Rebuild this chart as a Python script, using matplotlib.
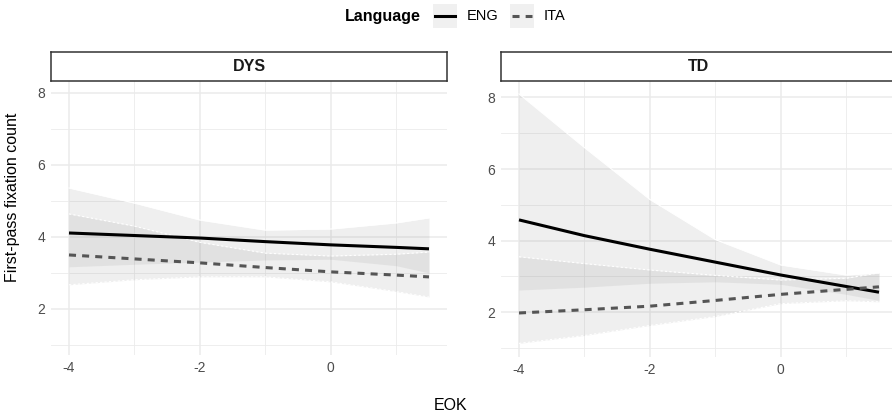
import matplotlib
matplotlib.use("Agg")
import matplotlib.pyplot as plt
from matplotlib.patches import Rectangle
from matplotlib.lines import Line2D

plt.rcParams['font.family'] = ['Liberation Sans', 'DejaVu Sans']

# EOK values where the curves were read
eok = [-4, -3, -2, -1, 0, 1, 1.5]

# DYS panel
dys_eng = [4.11, 4.04, 3.97, 3.87, 3.78, 3.71, 3.67]
dys_eng_lo = [3.17, 3.24, 3.30, 3.36, 3.38, 3.20, 3.00]
dys_eng_hi = [5.36, 4.94, 4.47, 4.19, 4.22, 4.39, 4.53]
dys_ita = [3.50, 3.39, 3.28, 3.15, 3.03, 2.94, 2.89]
dys_ita_lo = [2.67, 2.81, 2.89, 2.89, 2.75, 2.48, 2.33]
dys_ita_hi = [4.64, 4.30, 3.85, 3.55, 3.47, 3.52, 3.58]

# TD panel
td_eng = [4.58, 4.14, 3.76, 3.40, 3.04, 2.72, 2.56]
td_eng_lo = [2.62, 2.70, 2.81, 2.85, 2.78, 2.50, 2.33]
td_eng_hi = [8.10, 6.60, 5.15, 4.03, 3.32, 3.04, 3.10]
td_ita = [1.98, 2.07, 2.17, 2.33, 2.50, 2.64, 2.71]
td_ita_lo = [1.13, 1.35, 1.63, 1.88, 2.24, 2.32, 2.29]
td_ita_hi = [3.55, 3.36, 3.18, 3.03, 2.90, 2.95, 3.10]

panels = {
    "DYS": (dys_eng, dys_eng_lo, dys_eng_hi, dys_ita, dys_ita_lo, dys_ita_hi),
    "TD": (td_eng, td_eng_lo, td_eng_hi, td_ita, td_ita_lo, td_ita_hi),
}

W, H = 892, 417
fig = plt.figure(figsize=(W / 100, H / 100), dpi=100)

def fx(px):
    return px / W

def fy(py):
    return 1 - py / H

ita_dash = (0, (2.3, 2.0))
# (left px, right px, bottom px, ylim)
layout = {
    "DYS": (51, 447, 355, (0.72, 8.333)),
    "TD": (501, 897, 357, (0.75, 8.46)),
}

for name, (eng, eng_lo, eng_hi, ita, ita_lo, ita_hi) in panels.items():
    l, r, b, ylim = layout[name]
    ax = fig.add_axes([fx(l), fy(b), fx(r - l), (b - 81) / H])
    ax.set_xlim(-4.275, 1.775)
    ax.set_ylim(*ylim)
    for s in ax.spines.values():
        s.set_visible(False)
    ax.set_xticks([-4, -2, 0])
    ax.set_xticks([-3, -1, 1], minor=True)
    ax.set_yticks([2, 4, 6, 8])
    ax.set_yticks([1, 3, 5, 7], minor=True)
    ax.grid(which='major', color='#ebebeb', lw=1.1)
    ax.grid(which='minor', color='#ebebeb', lw=0.6)
    ax.set_axisbelow(True)
    ax.tick_params(which='both', length=0, labelsize=10, labelcolor='#4d4d4d', pad=4)
    ax.set_xticklabels(['-4', '-2', '0'])

    ax.fill_between(eok, eng_lo, eng_hi, color='grey', alpha=0.12, lw=0)
    ax.fill_between(eok, ita_lo, ita_hi, color='grey', alpha=0.12, lw=0)
    ax.plot(eok, eng_hi, color='white', lw=0.8)
    ax.plot(eok, ita_hi, color='white', lw=0.8, ls=(0, (2, 2)))
    ax.plot(eok, ita_lo, color='white', lw=0.8, ls=(0, (2, 2)))
    ax.plot(eok, eng, color='black', lw=2.2, solid_capstyle='butt')
    ax.plot(eok, ita, color='#555555', lw=2.2, ls=ita_dash)

    # facet strip
    sax = fig.add_axes([fx(l), fy(81), fx(r - l), 29 / H])
    sax.set_xticks([])
    sax.set_yticks([])
    for s in sax.spines.values():
        s.set_color('#333333')
        s.set_linewidth(1.1)
    sax.text(0.5, 0.5, name, ha='center', va='center', fontsize=11.5,
             fontweight='bold', color='#1a1a1a', transform=sax.transAxes)

fig.text(fx(13), fy(197), 'First-pass fixation count', rotation=90,
         ha='center', va='center', fontsize=11.5)
fig.text(fx(451), fy(405), 'EOK', ha='center', va='center', fontsize=11.5)

# legend
fig.text(fx(383), fy(16), 'Language', ha='center', va='center',
         fontsize=11.5, fontweight='bold')
for x0, label, style, col in [(433, 'ENG', '-', 'black'), (510, 'ITA', ita_dash, '#555555')]:
    fig.patches.append(Rectangle((fx(x0), fy(28)), fx(24), 24 / H,
                                 transform=fig.transFigure, color='#f0f0f0', lw=0))
    fig.lines.append(Line2D([fx(x0 + 2), fx(x0 + 22)], [fy(16), fy(16)],
                            transform=fig.transFigure, color=col, lw=2.2, ls=style))
    fig.text(fx(x0 + 34), fy(16), label, ha='left', va='center', fontsize=10.5)

fig.savefig('out.png', dpi=100)
